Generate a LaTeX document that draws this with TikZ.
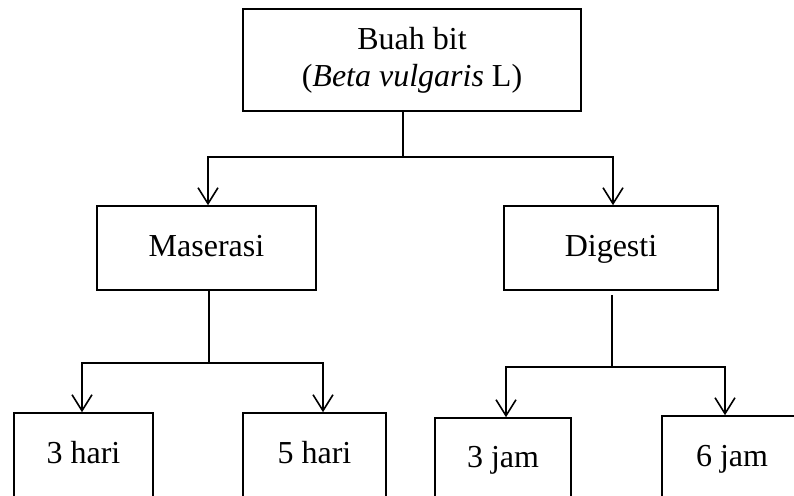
\documentclass[tikz,border=0pt]{standalone}
\usepackage{fontspec}
\setmainfont{Liberation Serif}
\usetikzlibrary{arrows.meta,calc}

\tikzset{
  kotak/.style={draw, line width=1.6pt, inner sep=0pt, align=center,
    text height=22pt, text depth=6pt},
  panah/.style={line width=1.6pt, -{Straight Barb[length=16pt,width=20pt,line width=1.6pt]}},
  garis/.style={line width=1.6pt}
}

\begin{document}
\begin{tikzpicture}[x=1pt,y=-1pt,font=\fontsize{32}{37}\selectfont]
                \useasboundingbox (0,0) rectangle (794,495);
                \clip (0,0) rectangle (794,495);
                % kotak utama
                \node[kotak, minimum width=338pt, minimum height=102pt, text height=, text depth=] (buah) at (412,60) {Buah bit\\(\textit{Beta vulgaris} L)};
                \node[kotak, minimum width=219pt, minimum height=84pt] (maserasi) at (206.5,248) {Maserasi};
                \node[kotak, minimum width=214pt, minimum height=84pt] (digesti) at (611,248) {Digesti};
                % kotak waktu
                \node[kotak, minimum width=139pt, minimum height=85pt] (hari3) at (83.5,455.5) {3 hari};
                \node[kotak, minimum width=143pt, minimum height=85pt] (hari5) at (314.5,455.5) {5 hari};
                \node[kotak, minimum width=136pt, minimum height=83pt] (jam3) at (503,459.5) {3 jam};
                \node[kotak, minimum width=140pt, minimum height=85pt] (jam6) at (732,458.5) {6 jam};
                % percabangan
                \coordinate (A) at (403,157);
                \coordinate (B) at (209,363);
                \coordinate (C) at (612,367);
                \draw[garis] (A |- buah.south) -- (A);
                \draw[panah] (A) -| ([xshift=1.5pt]maserasi.north);
                \draw[panah] (A) -| ([xshift=2pt]digesti.north);
                \draw[garis] (B |- maserasi.south) -- (B);
                \draw[panah] (B) -| ([xshift=-1.5pt]hari3.north);
                \draw[panah] (B) -| ([xshift=8.5pt]hari5.north);
                \draw[garis] ([yshift=-4pt]C |- digesti.south) -- (C);
                \draw[panah] (C) -| ([xshift=3pt]jam3.north);
                \draw[panah] (C) -| ([xshift=-7pt]jam6.north);
            \end{tikzpicture}
\end{document}
